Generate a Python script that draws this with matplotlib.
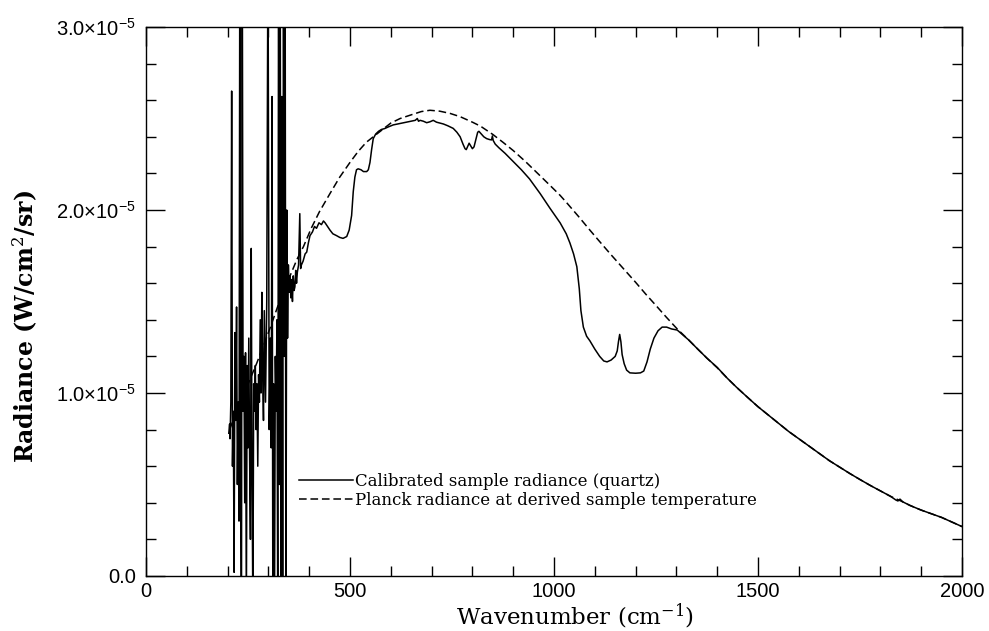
import numpy as np
import matplotlib
matplotlib.use("Agg")
import matplotlib.pyplot as plt

# --- données (radiance en unités de 1e-5 W/cm2/sr) ---
wn_sample = [
    203, 205, 206, 208, 210, 212, 214, 216, 218, 220, 222, 224, 226, 228, 230,
    232, 234, 236, 238, 240, 242, 244, 246, 248, 250, 252, 254, 256, 258, 260,
    262, 264, 266, 268, 270, 272, 274, 276, 278, 280, 282, 284, 286, 288, 290,
    293, 296, 299, 302, 305, 307, 309, 311, 313, 315, 317, 319, 321, 323, 325,
    327, 329, 331, 333, 335, 337, 339, 341, 343, 345, 347, 349, 351, 353, 355,
    357, 359, 361, 363, 365, 367, 369, 371, 374, 377, 379, 381, 385, 390, 394,
    398, 402, 408, 413, 418, 424, 430, 435, 439, 445, 451, 458, 467, 475, 483,
    492, 498, 504, 508, 512, 516, 520, 527, 533, 541, 545, 549, 553, 557, 563,
    570, 577, 585, 595, 606, 617, 627, 639, 650, 660, 665, 668, 672, 680, 688,
    696, 704, 712, 720, 729, 740, 753, 762, 770, 777, 782, 785, 789, 792, 796,
    800, 804, 809, 813, 816, 820, 828, 835, 842, 847, 849, 851, 856, 865, 880,
    900, 920, 940, 966, 990, 1015, 1030, 1039, 1048, 1056, 1062, 1066, 1072, 1080, 1088,
    1100, 1112, 1122, 1130, 1140, 1150, 1155, 1158, 1161, 1164, 1167, 1172, 1178, 1186, 1200,
    1212, 1220, 1228, 1236, 1245, 1255, 1265, 1276, 1288, 1302, 1330, 1350, 1375, 1400, 1425,
    1448, 1475, 1500, 1525, 1550, 1575, 1600, 1625, 1650, 1675, 1700, 1725, 1750, 1775, 1800,
    1825, 1838, 1843, 1848, 1855, 1873, 1900, 1925, 1950, 1975, 2000,
]
rad_sample = [
    0.78, 0.83, 0.75, 0.95, 2.65, 0.60, 0.90, 0.02, 1.33, 0.85, 1.47, 0.50, 0.95, 0.30, 3.5,
    0.55, -0.3, 3.5, 0.90, 1.20, 0.40, 1.22, -0.2, 1.15, 0.70, 1.30, 0.65, 0.20, 1.79, 0.55,
    -0.2, 1.05, 0.90, 1.15, 0.80, 1.05, 0.60, 1.10, 0.95, 1.40, 1.00, 1.55, 1.10, 0.85, 1.45,
    0.95, 1.50, 3.5, 0.80, 1.30, 0.70, 2.62, -0.3, 1.05, -0.2, 1.20, 0.90, 1.40, -0.3, 3.5,
    0.50, 3.5, -0.3, 2.62, -0.3, 3.5, 1.20, 3.5, -0.3, 2.00, 1.30, 1.70, 1.55, 1.64, 1.52,
    1.62, 1.50, 1.64, 1.56, 1.58, 1.67, 1.60, 1.66, 1.70, 1.98, 1.68, 1.70, 1.72, 1.76, 1.77,
    1.82, 1.86, 1.88, 1.91, 1.90, 1.93, 1.92, 1.94, 1.93, 1.91, 1.89, 1.87, 1.86, 1.85, 1.845,
    1.855, 1.89, 1.97, 2.10, 2.18, 2.22, 2.225, 2.22, 2.21, 2.21, 2.22, 2.26, 2.33, 2.39, 2.415,
    2.43, 2.44, 2.445, 2.455, 2.465, 2.47, 2.475, 2.48, 2.485, 2.49, 2.50, 2.485, 2.49, 2.485, 2.477,
    2.482, 2.49, 2.48, 2.475, 2.47, 2.46, 2.446, 2.425, 2.40, 2.36, 2.335, 2.33, 2.35, 2.365, 2.35,
    2.335, 2.345, 2.39, 2.425, 2.43, 2.42, 2.40, 2.39, 2.385, 2.383, 2.405, 2.38, 2.36, 2.34, 2.31,
    2.265, 2.22, 2.17, 2.09, 2.01, 1.93, 1.87, 1.82, 1.76, 1.69, 1.57, 1.45, 1.36, 1.31, 1.285,
    1.24, 1.20, 1.175, 1.17, 1.18, 1.20, 1.23, 1.28, 1.32, 1.28, 1.21, 1.16, 1.125, 1.11, 1.108,
    1.11, 1.12, 1.17, 1.24, 1.30, 1.34, 1.36, 1.36, 1.35, 1.344, 1.29, 1.245, 1.19, 1.14, 1.08,
    1.03, 0.975, 0.925, 0.88, 0.835, 0.79, 0.75, 0.71, 0.67, 0.63, 0.595, 0.56, 0.527, 0.495, 0.465,
    0.435, 0.415, 0.41, 0.42, 0.405, 0.385, 0.36, 0.34, 0.32, 0.295, 0.27,
]

wn_planck = [
    205, 222, 240, 256, 271, 290, 305, 324, 340, 355, 370, 386, 405, 425, 451,
    475, 500, 520, 540, 557, 580, 600, 623, 650, 675, 696, 720, 745, 770, 800,
    820, 850, 875, 900, 930, 960, 990, 1015, 1031, 1060, 1088, 1109, 1140, 1170, 1200,
    1225, 1250, 1275, 1302, 1330, 1350, 1375, 1400, 1425, 1448, 1475, 1500, 1525, 1550, 1575,
    1600, 1625, 1650, 1675, 1700, 1725, 1750, 1775, 1800, 1825, 1850, 1873, 1900, 1925, 1950,
    1975, 2000,
]
rad_planck = [
    0.80, 0.90, 0.99, 1.08, 1.16, 1.27, 1.36, 1.48, 1.57, 1.65, 1.73, 1.80, 1.90, 1.99, 2.09,
    2.18, 2.26, 2.32, 2.37, 2.40, 2.44, 2.475, 2.50, 2.52, 2.538, 2.545, 2.54, 2.528, 2.51, 2.48,
    2.458, 2.413, 2.37, 2.325, 2.265, 2.20, 2.135, 2.08, 2.04, 1.965, 1.89, 1.835, 1.755, 1.68, 1.605,
    1.54, 1.478, 1.415, 1.35, 1.29, 1.245, 1.19, 1.138, 1.08, 1.03, 0.975, 0.925, 0.88, 0.835, 0.79,
    0.75, 0.71, 0.67, 0.63, 0.595, 0.56, 0.527, 0.495, 0.465, 0.435, 0.41, 0.385, 0.36, 0.34, 0.32,
    0.295, 0.27,
]

label_sample = "Calibrated sample radiance (quartz)"
label_planck = "Planck radiance at derived sample temperature"

ytick_vals = [0.0, 1e-5, 2e-5, 3e-5]
ytick_labels = ["0.0", r"$1.0{\times}10^{-5}$", r"$2.0{\times}10^{-5}$", r"$3.0{\times}10^{-5}$"]
xtick_vals = [0, 500, 1000, 1500, 2000]

# --- style ---
plt.rcParams["mathtext.fontset"] = "custom"
plt.rcParams["mathtext.rm"] = "Liberation Sans"
plt.rcParams["mathtext.it"] = "Liberation Sans:italic"
plt.rcParams["mathtext.bf"] = "Liberation Sans:bold"

fig = plt.figure(figsize=(9.89, 6.31), dpi=100)
ax = fig.add_axes([0.1476, 0.0872, 0.8251, 0.8700])

ax.plot(wn_sample, np.array(rad_sample) * 1e-5, color="black", linewidth=1.1,
        label=label_sample)
ax.plot(wn_planck, np.array(rad_planck) * 1e-5, color="black", linewidth=1.1,
        linestyle=(0, (5, 2.5)), label=label_planck)

ax.set_xlim(0, 2000)
ax.set_ylim(0, 3e-5)

ax.set_xticks(xtick_vals)
ax.set_xticks(np.arange(0, 2001, 100), minor=True)
ax.set_yticks(ytick_vals, ytick_labels)
ax.set_yticks(np.arange(0, 3.01e-5, 0.2e-5), minor=True)

ax.tick_params(which="both", direction="in", top=True, right=True, width=1.0)
ax.tick_params(which="major", length=14, labelsize=14.5)
ax.tick_params(which="minor", length=7)
ax.tick_params(axis="x", pad=4)
ax.tick_params(axis="y", pad=7)
for lab in ax.get_xticklabels() + ax.get_yticklabels():
    lab.set_fontfamily("Liberation Sans")
for sp in ax.spines.values():
    sp.set_linewidth(1.0)

ax.set_xlabel("Wavenumber (cm$^{-1}$)", fontsize=16.5, family="DejaVu Serif",
              math_fontfamily="dejavuserif")
ax.set_ylabel("Radiance (W/cm$^{2}$/sr)", fontsize=17, family="DejaVu Serif",
              fontweight="bold", math_fontfamily="dejavuserif")
# étiquettes légèrement décentrées comme sur l'original
ax.xaxis.set_label_coords(0.526, -0.047)
ax.yaxis.set_label_coords(-0.130, 0.454)

leg = ax.legend(loc="upper left", bbox_to_anchor=(0.188, 0.187), frameon=False,
                handlelength=3.2, handletextpad=0.15, labelspacing=0.1,
                borderpad=0, borderaxespad=0,
                prop={"family": "DejaVu Serif", "size": 12})

fig.savefig("out.png", dpi=100)
